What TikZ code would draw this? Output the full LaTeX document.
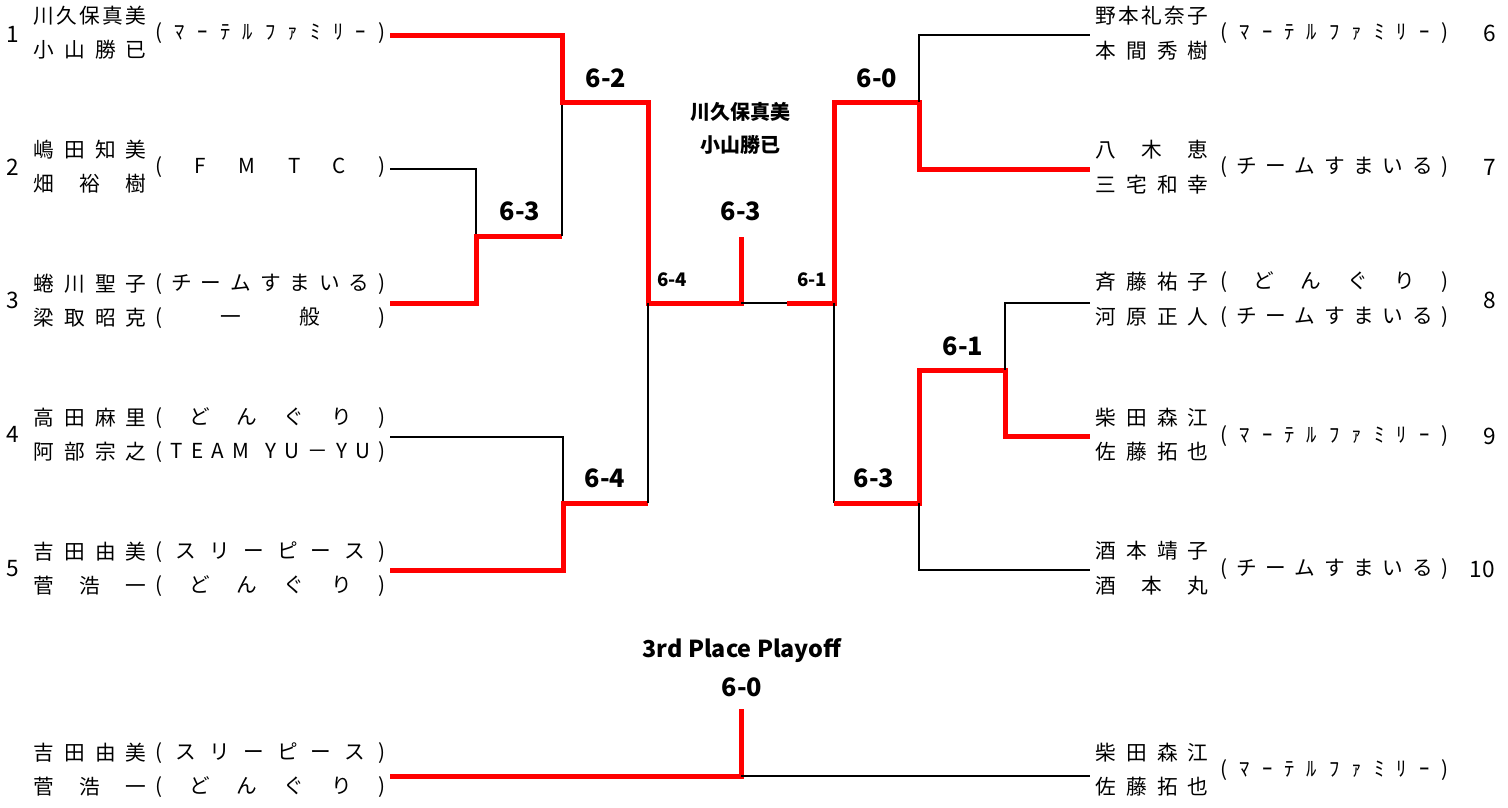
\documentclass[tikz,border=0pt]{standalone}
\usepackage{fontspec}
\setmainfont{Noto Sans CJK JP}

% letters spread evenly over a fixed width
\newcommand{\spread}[2]{\makebox[#1][s]{\foreach[count=\k] \tk in {#2}{\ifnum\k>1 \hfill\fi\tk}}}

\tikzset{every picture/.style={line width=0.75pt}}
\tikzset{
  win/.style={draw={rgb, 255:red, 255; green, 0; blue, 0 }, line width=3.75pt},
  lose/.style={draw=black, line width=1.1pt},
  player/.style={anchor=west, inner sep=0pt, font=\fontsize{15.5}{15.5}\selectfont},
  seed/.style={inner sep=0pt, font=\fontsize{17}{17}\selectfont},
  score/.style={inner sep=0pt, font=\bfseries\fontsize{19}{19}\selectfont},
  minorscore/.style={inner sep=0pt, font=\bfseries\fontsize{14}{14}\selectfont},
  champ/.style={inner sep=0pt, font=\bfseries\fontsize{15}{15}\selectfont},
}

\begin{document}
\begin{tikzpicture}[x=0.75pt,y=0.75pt,yscale=-1,xscale=1]
	\useasboundingbox (0,0) rectangle (1508,807);

	% Bracket points
	\coordinate (L1) at (390,35);
	\coordinate (L2) at (390,169);
	\coordinate (L3) at (390,303);
	\coordinate (L4) at (390,437);
	\coordinate (L5) at (390,570);
	\coordinate (R6) at (1090,35);
	\coordinate (R7) at (1090,169);
	\coordinate (R8) at (1090,303);
	\coordinate (R9) at (1090,436);
	\coordinate (R10) at (1090,570);
	\coordinate (m23) at (476,236);
	\coordinate (s123) at (562,102);
	\coordinate (s45) at (563,503);
	\coordinate (fL) at (648,303);
	\coordinate (cB) at (741,303);
	\coordinate (cT) at (741,237);
	\coordinate (cX) at (787,303);
	\coordinate (fR) at (834,303);
	\coordinate (s67) at (919,102);
	\coordinate (s810) at (919,503);
	\coordinate (m89) at (1005,370);
	\coordinate (tL) at (390,776);
	\coordinate (tB) at (741,776);
	\coordinate (tT) at (741,709);
	\coordinate (tR) at (1090,776);

	% Left half
	\draw [lose] (L2) -| (m23) ;
	\draw [win] (L3) -| (m23) -- (m23 -| s123) ;
	\draw [lose] (m23 -| s123) -- (s123) ;
	\draw [win] (L1) -| (s123) -| (fL) -- (cB) -- (cT) ;
	\draw [lose] (L4) -| (s45) ;
	\draw [win] (L5) -| (s45) -- (s45 -| fL) ;
	\draw [lose] (s45 -| fL) -- (fL) ;
	% Right half
	\draw [lose] (cB) -- (cX) ;
	\draw [win] (cX) -- (fR) |- (s67) |- (R7) ;
	\draw [lose] (s67) |- (R6) ;
	\draw [lose] (fR) -- (fR |- s810) ;
	\draw [win] (fR |- s810) -- (s810) |- (m89) |- (R9) ;
	\draw [lose] (m89) |- (R8) ;
	\draw [lose] (s810) |- (R10) ;
	% 3rd place
	\draw [win] (tL) -- (tB) -- (tT) ;
	\draw [lose] (tB) -- (tR) ;

	% Text Node
	\node [seed] (k1) at (13,34) {1};
	\node [player] (n1a) at (33,16) {\spread{84.75pt}{川,久,保,真,美}};
	\node [player] (n1b) at (33,50) {\spread{84.75pt}{小,山,勝,已}};
	\node [player] (t1) at (155,33) {\spread{172.5pt}{{(},ﾏ,ｰ,ﾃ,ﾙ,ﾌ,ｧ,ﾐ,ﾘ,ｰ,{)}}};
	% Text Node
	\node [seed] (k2) at (13,167) {2};
	\node [player] (n2a) at (33,150) {\spread{84.75pt}{嶋,田,知,美}};
	\node [player] (n2b) at (33,184) {\spread{84.75pt}{畑,裕,樹}};
	\node [player] (t2) at (155,167) {\spread{172.5pt}{{(},F,M,T,C,{)}}};
	% Text Node
	\node [seed] (k3) at (13,300) {3};
	\node [player] (n3a) at (33,284) {\spread{84.75pt}{蜷,川,聖,子}};
	\node [player] (t3a) at (155,284) {\spread{172.5pt}{{(},チ,ー,ム,す,ま,い,る,{)}}};
	\node [player] (n3b) at (33,318) {\spread{84.75pt}{梁,取,昭,克}};
	\node [player] (t3b) at (155,318) {\spread{172.5pt}{{(},一,般,{)}}};
	% Text Node
	\node [seed] (k4) at (13,434) {4};
	\node [player] (n4a) at (33,418) {\spread{84.75pt}{高,田,麻,里}};
	\node [player] (t4a) at (155,418) {\spread{172.5pt}{{(},ど,ん,ぐ,り,{)}}};
	\node [player] (n4b) at (33,452) {\spread{84.75pt}{阿,部,宗,之}};
	\node [player] (t4b) at (155,452) {\spread{172.5pt}{{(},T,E,A,M,{},Y,U,－,Y,U,{)}}};
	% Text Node
	\node [seed] (k5) at (13,569) {5};
	\node [player] (n5a) at (33,552) {\spread{84.75pt}{吉,田,由,美}};
	\node [player] (t5a) at (155,552) {\spread{172.5pt}{{(},ス,リ,ー,ピ,ー,ス,{)}}};
	\node [player] (n5b) at (33,586) {\spread{84.75pt}{菅,浩,一}};
	\node [player] (t5b) at (155,586) {\spread{172.5pt}{{(},ど,ん,ぐ,り,{)}}};

	% Text Node
	\node [seed] (k6) at (1490,33) {6};
	\node [player] (n6a) at (1095,16) {\spread{84.75pt}{野,本,礼,奈,子}};
	\node [player] (n6b) at (1095,51) {\spread{84.75pt}{本,間,秀,樹}};
	\node [player] (t6) at (1220,33) {\spread{171pt}{{(},ﾏ,ｰ,ﾃ,ﾙ,ﾌ,ｧ,ﾐ,ﾘ,ｰ,{)}}};
	% Text Node
	\node [seed] (k7) at (1490,167) {7};
	\node [player] (n7a) at (1095,150) {\spread{84.75pt}{八,木,恵}};
	\node [player] (n7b) at (1095,185) {\spread{84.75pt}{三,宅,和,幸}};
	\node [player] (t7) at (1220,167) {\spread{171pt}{{(},チ,ー,ム,す,ま,い,る,{)}}};
	% Text Node
	\node [seed] (k8) at (1490,300) {8};
	\node [player] (n8a) at (1095,282) {\spread{84.75pt}{斉,藤,祐,子}};
	\node [player] (t8a) at (1220,282) {\spread{171pt}{{(},ど,ん,ぐ,り,{)}}};
	\node [player] (n8b) at (1095,317) {\spread{84.75pt}{河,原,正,人}};
	\node [player] (t8b) at (1220,317) {\spread{171pt}{{(},チ,ー,ム,す,ま,い,る,{)}}};
	% Text Node
	\node [seed] (k9) at (1490,436) {9};
	\node [player] (n9a) at (1095,418) {\spread{84.75pt}{柴,田,森,江}};
	\node [player] (n9b) at (1095,452) {\spread{84.75pt}{佐,藤,拓,也}};
	\node [player] (t9) at (1220,436) {\spread{171pt}{{(},ﾏ,ｰ,ﾃ,ﾙ,ﾌ,ｧ,ﾐ,ﾘ,ｰ,{)}}};
	% Text Node
	\node [seed] (k10) at (1482,569) {10};
	\node [player] (n10a) at (1095,551) {\spread{84.75pt}{酒,本,靖,子}};
	\node [player] (n10b) at (1095,586) {\spread{84.75pt}{酒,本,丸}};
	\node [player] (t10) at (1220,569) {\spread{171pt}{{(},チ,ー,ム,す,ま,い,る,{)}}};

	% Scores
	\node [score] (g23) at (520,211) {6-3};
	\node [score] (g123) at (606,78) {6-2};
	\node [score] (g45) at (605,478) {6-4};
	\node [minorscore] (gL) at (672,280) {6-4};
	\node [minorscore] (gR) at (812,280) {6-1};
	\node [score] (g67) at (877,78) {6-0};
	\node [score] (g89) at (963,346) {6-1};
	\node [score] (g810) at (874,478) {6-3};
	\node [score] (gF) at (741,211) {6-3};
	% Winner
	\node [champ] (w1) at (740,112) {川久保真美};
	\node [champ] (w2) at (740,145) {小山勝已};

	% 3rd Place Playoff
	\node [score, font=\bfseries\fontsize{17.5}{17.5}\selectfont] (ptitle) at (742,651) {3rd Place Playoff};
	\node [score] (g3rd) at (742,687) {6-0};
	\node [player] (p1a) at (33,753) {\spread{84.75pt}{吉,田,由,美}};
	\node [player] (p1s) at (155,753) {\spread{172.5pt}{{(},ス,リ,ー,ピ,ー,ス,{)}}};
	\node [player] (p1b) at (33,787) {\spread{84.75pt}{菅,浩,一}};
	\node [player] (p1t) at (155,787) {\spread{172.5pt}{{(},ど,ん,ぐ,り,{)}}};
	\node [player] (p2a) at (1095,753) {\spread{84.75pt}{柴,田,森,江}};
	\node [player] (p2b) at (1095,787) {\spread{84.75pt}{佐,藤,拓,也}};
	\node [player] (p2t) at (1220,770) {\spread{171pt}{{(},ﾏ,ｰ,ﾃ,ﾙ,ﾌ,ｧ,ﾐ,ﾘ,ｰ,{)}}};

\end{tikzpicture}
\end{document}
